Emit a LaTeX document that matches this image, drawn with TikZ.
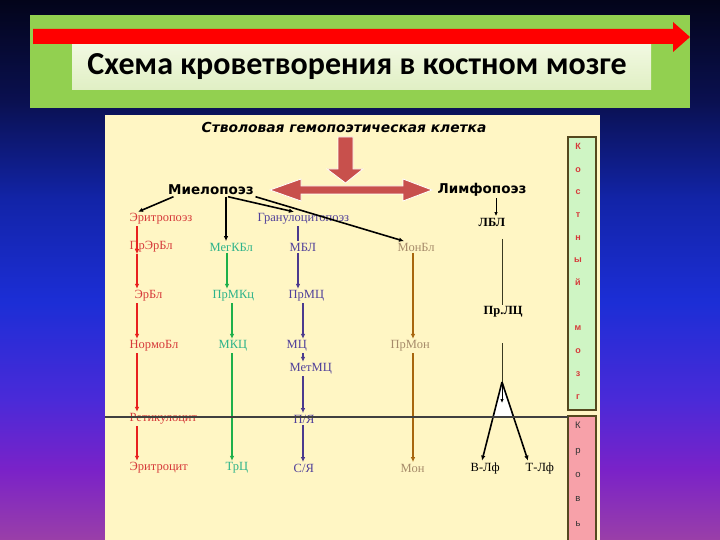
\documentclass[tikz,border=0pt]{standalone}
\usepackage{fontspec}
\setmainfont{Liberation Serif}
\setsansfont{Liberation Sans}
\newfontfamily\bannerfont{Carlito}
\newfontfamily\headfont{DejaVu Sans}
\usetikzlibrary{arrows.meta}
\definecolor{bgtop}{HTML}{03041A}
\definecolor{bgnavy}{HTML}{0A1050}
\definecolor{bgdeep}{HTML}{1224A8}
\definecolor{bgblue}{HTML}{1C2ED6}
\definecolor{bgviolet}{HTML}{4A2AD8}
\definecolor{bgpurple}{HTML}{7A22C8}
\definecolor{bgbot}{HTML}{9A3FA8}
\definecolor{bannergreen}{HTML}{92D050}
\definecolor{bannerlight}{HTML}{F2F9E2}
\definecolor{bannershade}{HTML}{E0EFC4}
\definecolor{titlered}{HTML}{FF0000}
\definecolor{panelcream}{HTML}{FFF6C4}
\definecolor{blockred}{HTML}{C8504C}
\definecolor{marrowgreen}{HTML}{CFF5C4}
\definecolor{bloodpink}{HTML}{F7A1A9}
\definecolor{boxedge}{HTML}{55481E}
\definecolor{erytext}{HTML}{D63A3A}
\definecolor{eryline}{HTML}{E8201E}
\definecolor{megtext}{HTML}{2DB38A}
\definecolor{megline}{HTML}{1DB04A}
\definecolor{grantext}{HTML}{50409A}
\definecolor{granline}{HTML}{4B3A8E}
\definecolor{montext}{HTML}{A68B6A}
\definecolor{monline}{HTML}{A8660E}
\definecolor{lymline}{HTML}{3A3A20}

\pgfdeclareverticalshading{slidebg}{100bp}{color(0bp)=(bgbot); color(25bp)=(bgbot);
  color(31.5bp)=(bgpurple); color(38bp)=(bgviolet); color(47bp)=(bgblue);
  color(56.5bp)=(bgdeep); color(65.7bp)=(bgnavy); color(75bp)=(bgtop); color(100bp)=(bgtop)}

\begin{document}
\begin{tikzpicture}[
    x=1pt,y=-1pt,
    cell/.style={inner sep=1.5pt,anchor=west,font=\fontsize{12.5}{14}\selectfont},
    erycell/.style={cell,text=erytext},
    megcell/.style={cell,text=megtext},
    grancell/.style={cell,text=grantext},
    moncell/.style={cell,text=montext},
    lymcell/.style={cell,text=black},
    branch/.style={inner sep=1.5pt,font=\headfont\bfseries\fontsize{13.5}{16}\selectfont},
    flow/.style={-{Latex[length=5pt,width=4.5pt]},line width=1.6pt},
    eryflow/.style={flow,eryline},
    megflow/.style={flow,megline},
    granflow/.style={flow,granline},
    monflow/.style={flow,monline},
    blackflow/.style={flow,black},
    thinline/.style={line width=0.9pt,lymline}
]
\useasboundingbox (0,0) rectangle (720,540);

% Slide background
\fill[shading=slidebg] (0,0) rectangle (720,540);

% Title banner
\fill[bannergreen] (30,15) rectangle (690,108);
\shade[top color=bannerlight,bottom color=bannershade] (72,43) rectangle (651,90);
\fill[titlered] (33,29) -- (673,29) -- (673,22) -- (690,37) -- (673,52)
    -- (673,44) -- (33,44) -- cycle;
\node[font=\bannerfont\bfseries\fontsize{32}{38}\selectfont] (title) at (357,67)
    {Схема кроветворения в костном мозге};

% Diagram panel
\fill[panelcream] (105,115) rectangle (600,540);

% Side columns
\draw[boxedge,line width=1.3pt,fill=marrowgreen] (568,137) rectangle (596,410);
\draw[boxedge,line width=1.3pt,fill=bloodpink] (568,416) rectangle (596,542);
\node[anchor=north,inner sep=0pt,align=center,text=erytext,
    font=\sffamily\bfseries\fontsize{9}{22.7}\selectfont] (marrow) at (578,143)
    {К\\о\\с\\т\\н\\ы\\й\\[22.7pt]м\\о\\з\\г};
\node[anchor=north,inner sep=0pt,align=center,text=black!80,
    font=\sffamily\fontsize{9.5}{24.4}\selectfont] (blood) at (578,422)
    {К\\р\\о\\в\\ь};

% Stem cell and the two branches
\node[inner sep=1.5pt,font=\headfont\bfseries\itshape\fontsize{13.8}{16}\selectfont]
    (stem) at (344,127) {Стволовая гемопоэтическая клетка};
\node[branch] (mielo) at (211,190) {Миелопоэз};
\node[branch] (limfo) at (482,190) {Лимфопоэз};

% Block arrows
\fill[blockred,draw=white,line width=0.8pt] (338,137) -- (353,137) -- (353,169)
    -- (363,169) -- (345.5,183) -- (327,169) -- (338,169) -- cycle;
\fill[blockred,draw=white,line width=0.8pt] (270,190) -- (301,179) -- (301,186)
    -- (403,186) -- (403,179) -- (432,190) -- (403,201) -- (403,194)
    -- (301,194) -- (301,201) -- cycle;

% Erythropoiesis
\node[erycell] (erpoez) at (128,219) {Эритропоэз};
\node[erycell] (proerb) at (128,247) {ПрЭрБл};
\node[erycell] (erbl) at (133,296) {ЭрБл};
\node[erycell] (normobl) at (128,346) {НормоБл};
\node[erycell] (retik) at (128,419) {Ретикулоцит};
\node[erycell] (erytr) at (128,468) {Эритроцит};

% Megakaryocytes
\node[megcell] (megkbl) at (208,247) {МегКБл};
\node[megcell] (prmkc) at (211,296) {ПрМКц};
\node[megcell] (mkc) at (217,346) {МКЦ};
\node[megcell] (trc) at (224,468) {ТрЦ};

% Granulocytes
\node[grancell] (granpoez) at (256,219) {Гранулоцитопоэз};
\node[grancell] (mbl) at (288,247) {МБЛ};
\node[grancell] (prmc) at (287,296) {ПрМЦ};
\node[grancell] (mc) at (285,346) {МЦ};
\node[grancell] (metmc) at (288,369) {МетМЦ};
\node[grancell] (pya) at (292,419) {П/Я};
\node[grancell] (sya) at (292,468) {С/Я};

% Monocytes
\node[moncell] (monbl) at (396,247) {МонБл};
\node[moncell] (prmon) at (389,346) {ПрМон};
\node[moncell] (mon) at (399,468) {Мон};

% Lymphocytes
\node[lymcell,font=\bfseries\fontsize{12.5}{14}\selectfont] (lbl) at (477,222) {ЛБЛ};
\node[lymcell,font=\bfseries\fontsize{12.5}{14}\selectfont] (prlc) at (482,312) {Пр.ЛЦ};
\node[lymcell] (blf) at (469,468) {В-Лф};
\node[lymcell] (tlf) at (524,468) {Т-Лф};
\coordinate (apex) at (502,382);
\coordinate (apexdrop) at (502,403);

% Branches from myelopoiesis
\draw[blackflow] ([xshift=7pt]mielo.south west) -- ([xshift=10pt]erpoez.north west);
\draw[blackflow] ([xshift=15pt]mielo.south) -- ([xshift=15pt]mielo.south |- megkbl.north);
\draw[blackflow] ([xshift=17pt]mielo.south) -- ([xshift=38pt]granpoez.north west);
\draw[blackflow] (mielo.south east) -- ([xshift=8pt]monbl.north west);

% Erythroid line
\draw[eryflow] ([xshift=9pt]erpoez.south west) -- ([xshift=9pt]proerb.south west);
\draw[eryflow] ([xshift=9pt]proerb.south west) -- ([xshift=9pt]proerb.south west |- erbl.north);
\draw[eryflow] ([xshift=4pt]erbl.south west) -- ([xshift=4pt]erbl.south west |- normobl.north);
\draw[eryflow] ([xshift=9pt]normobl.south west) -- ([xshift=9pt]normobl.south west |- retik.north);
\draw[eryflow] ([xshift=9pt]retik.south west) -- ([xshift=9pt]retik.south west |- erytr.north);

% Megakaryocyte line
\draw[megflow] ([xshift=19pt]megkbl.south west) -- ([xshift=19pt]megkbl.south west |- prmkc.north);
\draw[megflow] ([xshift=21pt]prmkc.south west) -- ([xshift=21pt]prmkc.south west |- mkc.north);
\draw[megflow] ([xshift=15pt]mkc.south west) -- ([xshift=15pt]mkc.south west |- trc.north);

% Granulocyte line
\draw[line width=1.2pt,granline] ([xshift=42pt]granpoez.south west) -- ([xshift=42pt]granpoez.south west |- mbl.north);
\draw[granflow] ([xshift=10pt]mbl.south west) -- ([xshift=10pt]mbl.south west |- prmc.north);
\draw[granflow] ([xshift=16pt]prmc.south west) -- ([xshift=16pt]prmc.south west |- mc.north);
\draw[granflow] ([xshift=18pt]mc.south west) -- ([xshift=18pt]mc.south west |- metmc.north);
\draw[granflow] ([xshift=15pt]metmc.south west) -- ([xshift=15pt]metmc.south west |- pya.north);
\draw[granflow] ([xshift=11pt]pya.south west) -- ([xshift=11pt]pya.south west |- sya.north);

% Monocyte line
\draw[monflow] ([xshift=17pt]monbl.south west) -- ([xshift=17pt]monbl.south west |- prmon.north);
\draw[monflow] ([xshift=24pt]prmon.south west) -- ([xshift=24pt]prmon.south west |- mon.north);

% Lymphoid line
\fill[white] (apex) -- (492.8,417) -- (514,417) -- cycle;
\draw[-{Latex[length=4pt,width=3.5pt]},line width=0.9pt,black]
    ([xshift=19pt]lbl.north west |- limfo.south) -- ([xshift=19pt]lbl.north west);
\draw[thinline,shorten <=11pt] ([xshift=25pt]lbl.south west) -- ([xshift=20pt]prlc.north west);
\draw[thinline,shorten <=24pt] ([xshift=20pt]prlc.south west) -- (apex);
\draw[blackflow] (apex) -- ([xshift=13pt]blf.north west);
\draw[blackflow] (apex) -- ([xshift=4pt]tlf.north west);
\draw[-{Latex[length=4pt,width=3.5pt]},line width=1pt,black] (apex) -- (apexdrop);

% Boundary between marrow and blood
\draw[line width=1.4pt,black!75] (105,417) -- (568,417);

\end{tikzpicture}
\end{document}
